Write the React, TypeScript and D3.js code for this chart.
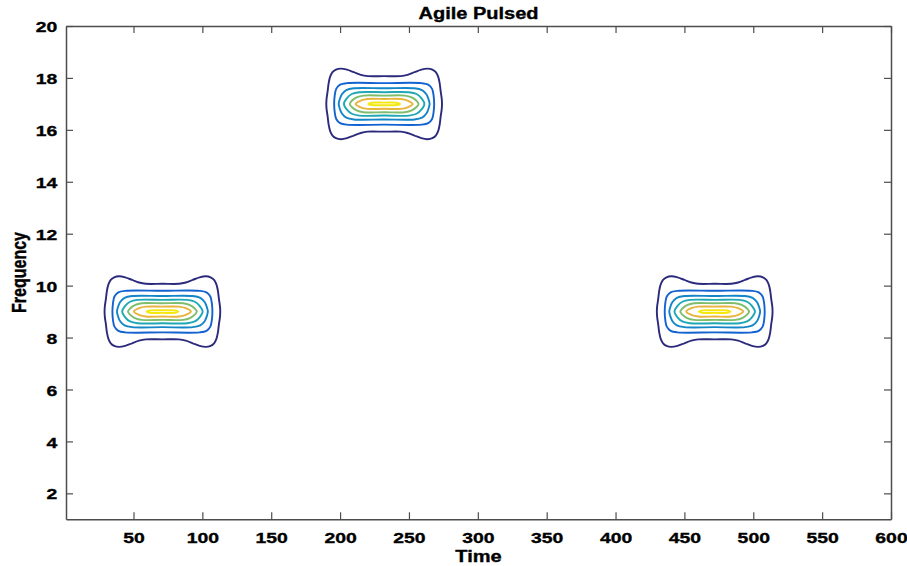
import React, { useEffect, useRef } from 'react'
import * as d3 from 'd3'

const W = 907
const H = 566

// pulse centres (time, frequency)
const pulseTimes = [71, 232, 472]
const pulseFreqs = [9, 17, 9]

const xTicks = [50, 100, 150, 200, 250, 300, 350, 400, 450, 500, 550, 600]
const yTicks = [2, 4, 6, 8, 10, 12, 14, 16, 18, 20]

// contour levels, outer -> inner, upper-right quadrant as [dTime, dFreq]
const levelColors = ['#2b2a7c', '#1362d0', '#1486c8', '#1fa8b4', '#7dbd6c', '#e9b43c', '#f3e80f']
const levelShapes: [number, number][][] = [
  [[0, 1.07], [12, 1.07], [17, 1.12], [22, 1.22], [27, 1.32], [31.5, 1.36], [35, 1.32], [37.5, 1.22], [39.2, 1.05], [40.3, 0.8], [41, 0.5], [41.8, 0.2], [42, 0]],
  [[0, 0.8], [27, 0.8], [32, 0.74], [34.8, 0.58], [35.9, 0.32], [36.3, 0]],
  [[0, 0.6], [22, 0.6], [27.5, 0.53], [30.8, 0.36], [32.4, 0.15], [33, 0]],
  [[0, 0.45], [18, 0.45], [23.5, 0.38], [27, 0.22], [29.2, 0]],
  [[0, 0.32], [15, 0.32], [20, 0.25], [23.5, 0.12], [25, 0]],
  [[0, 0.19], [12, 0.19], [17, 0.13], [20.7, 0]],
  [[0, 0.05], [9, 0.045], [11.5, 0]],
]

function mirror(q: [number, number][]): [number, number][] {
  return [
    ...q,
    ...q.slice(0, -1).reverse().map(([a, b]) => [a, -b] as [number, number]),
    ...q.slice(1).map(([a, b]) => [-a, -b] as [number, number]),
    ...q.slice(1, -1).reverse().map(([a, b]) => [-a, b] as [number, number]),
  ]
}

const FONT = '"Liberation Sans", Arial, sans-serif'
const SX = 1.25

export default function App() {
  const svgRef = useRef<SVGSVGElement>(null)

  useEffect(() => {
    const svg = d3.select(svgRef.current)
    svg.selectAll('*').remove()

    const x = d3.scaleLinear().domain([1, 600]).range([66, 891])
    const y = d3.scaleLinear().domain([1, 20]).range([519.3, 26])

    // contours
    const cg = svg.append('g')
    pulseTimes.forEach((ct, i) => {
      const cf = pulseFreqs[i]
      const line = d3.line<[number, number]>()
        .x(d => x(ct + d[0]))
        .y(d => y(cf + d[1]))
        .curve(d3.curveCatmullRomClosed.alpha(0.5))
      levelShapes.forEach((q, k) => {
        cg.append('path')
          .attr('d', line(mirror(q)))
          .attr('fill', 'none')
          .attr('stroke', levelColors[k])
          .attr('stroke-width', 1.9)
      })
    })

    // axes
    const axisColor = '#4d4d4d'
    const style = (g: any) => {
      g.select('.domain').attr('stroke', axisColor).attr('stroke-width', 1.5)
      g.selectAll('.tick line').attr('stroke', axisColor).attr('stroke-width', 1.2)
      g.selectAll('text')
        .attr('fill', '#000')
        .attr('stroke', '#000')
        .attr('stroke-width', 0.35)
        .attr('font-family', FONT)
        .attr('font-weight', 'bold')
        .attr('font-size', 15.5)
    }

    svg.append('g').attr('transform', `translate(0,${y(1)})`)
      .call(d3.axisBottom(x).tickValues(xTicks).tickSize(-7).tickSizeOuter(0))
      .call(style)
      .call(g => g.selectAll('text').attr('y', 24).attr('dy', 0).attr('transform', `scale(${SX},1)`))

    svg.append('g').attr('transform', `translate(0,${y(20)})`)
      .call(d3.axisTop(x).tickValues(xTicks).tickSize(-7).tickSizeOuter(0).tickFormat(() => ''))
      .call(style)

    svg.append('g').attr('transform', `translate(${x(1)},0)`)
      .call(d3.axisLeft(y).tickValues(yTicks).tickSize(-7).tickSizeOuter(0))
      .call(style)
      .call(g => g.selectAll('text').attr('x', -7).attr('dy', '0.36em').attr('transform', `scale(${SX},1)`))

    svg.append('g').attr('transform', `translate(${x(600)},0)`)
      .call(d3.axisRight(y).tickValues(yTicks).tickSize(-7).tickSizeOuter(0).tickFormat(() => ''))
      .call(style)

    const label = (txt: string, tr: string) =>
      svg.append('text')
        .attr('transform', tr)
        .attr('text-anchor', 'middle')
        .attr('font-family', FONT)
        .attr('font-weight', 'bold')
        .attr('font-size', 16)
        .attr('fill', '#000')
        .attr('stroke', '#000')
        .attr('stroke-width', 0.35)
        .text(txt)

    label('Agile Pulsed', `translate(478.5,18.5) scale(${SX},1)`)
    label('Time', `translate(478.5,561.5) scale(${SX},1)`)
    label('Frequency', `translate(26,272.5) scale(${SX},1) rotate(-90)`)
  }, [])

  return (
    <svg
      ref={svgRef}
      width={W}
      height={H}
      style={{ position: 'absolute', left: 0, top: 0, background: '#fff' }}
    />
  )
}
